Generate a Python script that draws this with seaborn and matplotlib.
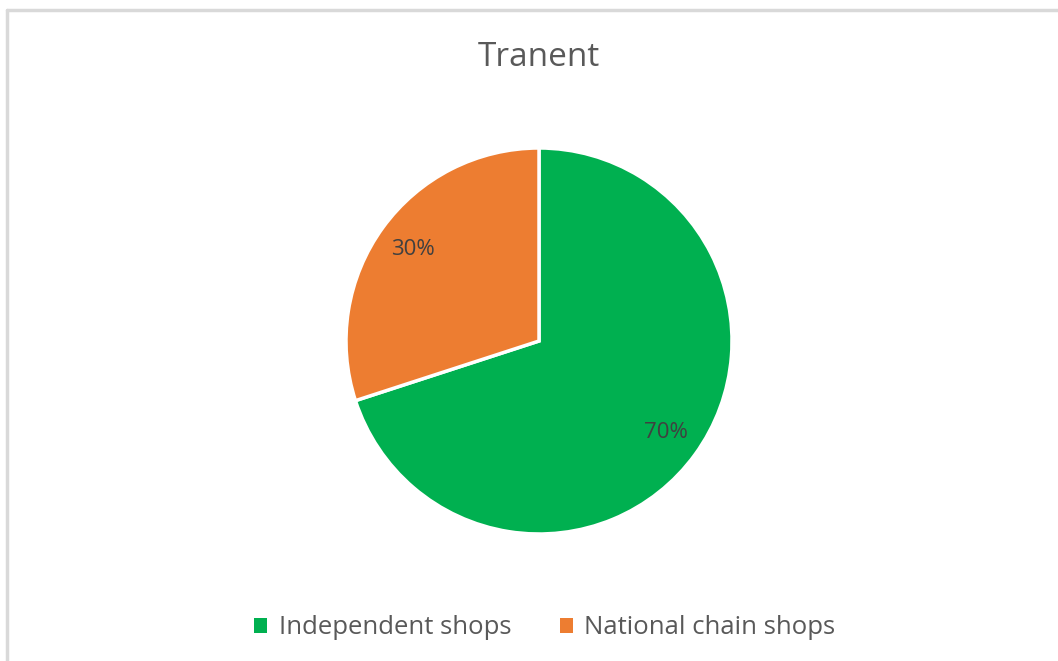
import matplotlib
matplotlib.use("Agg")
import matplotlib.pyplot as plt
import seaborn as sns
from matplotlib.lines import Line2D
from matplotlib.patches import Patch

categories = ["Independent shops", "National chain shops"]
values = [70, 30]
colors = ["#00B050", "#ED7D31"]
title = "Tranent"

sns.set_theme(style="white")
plt.rcParams['font.family'] = ['Open Sans', 'DejaVu Sans']

W, H = 1058, 661
fig = plt.figure(figsize=(W / 100, H / 100), dpi=100)
fig.patch.set_facecolor("white")

cx, cy, r = 539, 341, 193
ax = fig.add_axes([(cx - r) / W, (H - cy - r) / H, 2 * r / W, 2 * r / H])
wedges, texts, autotexts = ax.pie(
    values, colors=colors, startangle=90, counterclock=False,
    autopct=lambda p: f"{p:.0f}%", pctdistance=0.81,
    wedgeprops=dict(edgecolor="white", linewidth=2.5),
    textprops=dict(color="#404040", fontsize=16),
)
ax.set_xlim(-1, 1)
ax.set_ylim(-1, 1)
ax.set_aspect("equal")
ax.axis("off")

fig.text(cx / W, 1 - 57 / H, title, ha="center", va="center",
         fontsize=24, color="#595959")

handles = [Patch(facecolor=c, edgecolor="none") for c in colors]
fig.legend(handles, categories, loc="center", bbox_to_anchor=(0.515, 1 - 628 / H),
           ncol=2, frameon=False, fontsize=18.5, labelcolor="#595959",
           handlelength=0.5, handleheight=0.5, handletextpad=0.45, columnspacing=1.9)

fig.add_artist(Line2D([7 / W, 1], [1 - 10 / H, 1 - 10 / H], transform=fig.transFigure,
                      color="#D9D9D9", linewidth=2.5))
fig.add_artist(Line2D([7 / W, 7 / W], [0, 1 - 10 / H], transform=fig.transFigure,
                      color="#D9D9D9", linewidth=2.5))

fig.savefig("out.png", dpi=100, facecolor="white")
